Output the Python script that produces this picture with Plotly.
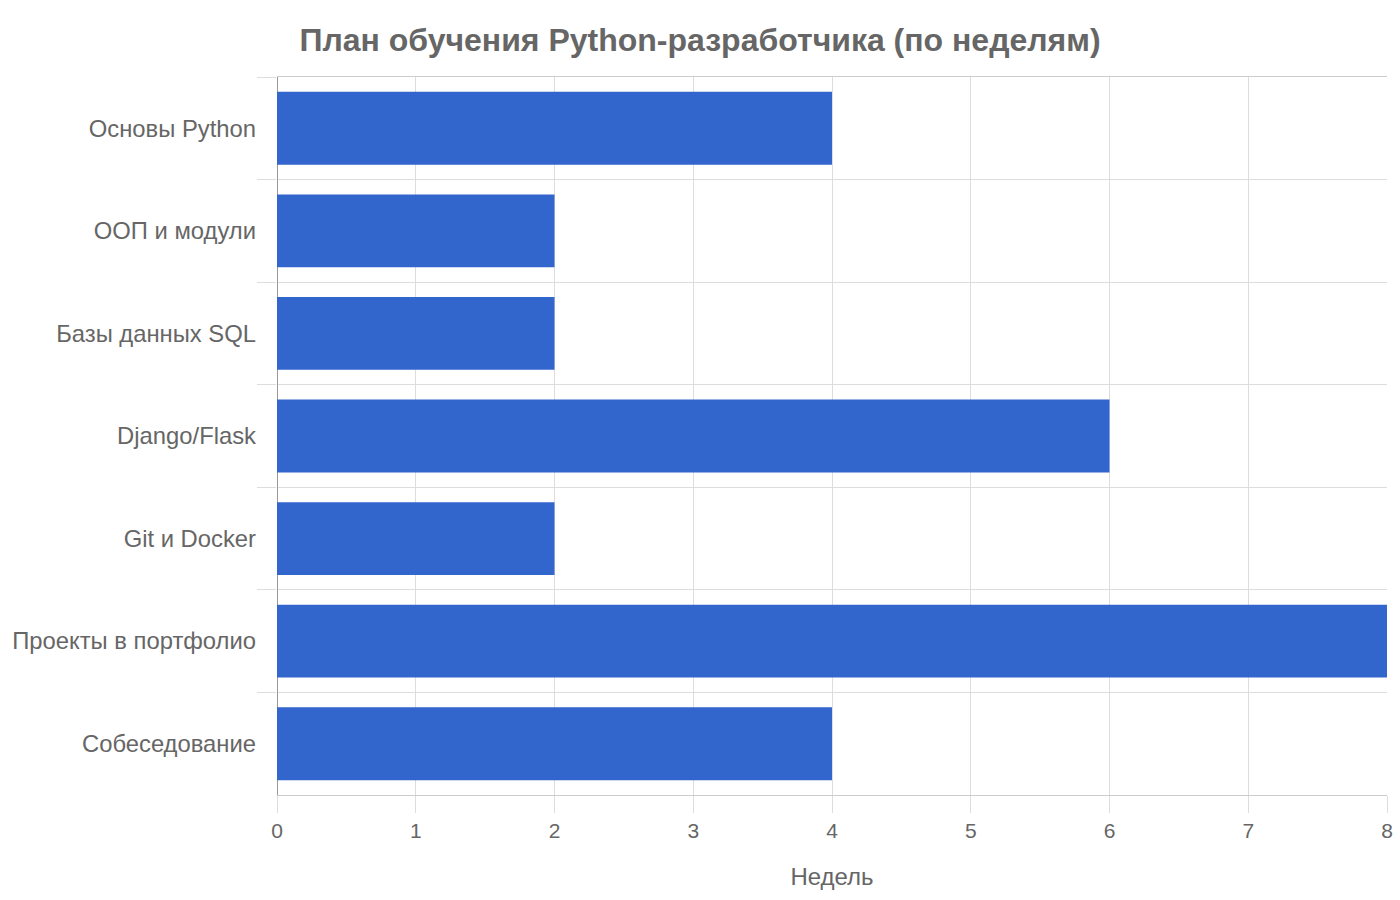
import plotly.graph_objects as go

categories = ["Основы Python", "ООП и модули", "Базы данных SQL", "Django/Flask",
              "Git и Docker", "Проекты в портфолио", "Собеседование"]
weeks = [4, 2, 2, 6, 2, 8, 4]
x_ticks = [0, 1, 2, 3, 4, 5, 6, 7, 8]

fig = go.Figure(go.Bar(
    y=categories, x=weeks, orientation="h",
    marker=dict(color="#3366CC", line=dict(width=0)),
))

fig.update_layout(
    width=1400, height=900,
    margin=dict(l=277, r=13, t=77, b=105),
    paper_bgcolor="white", plot_bgcolor="white",
    font=dict(family="Liberation Sans, Arial, sans-serif", color="#666666", size=22),
    title=dict(text="<b>План обучения Python-разработчика (по неделям)</b>",
               x=0.5, xanchor="center", y=0.956, yanchor="middle",
               font=dict(size=32, color="#666666")),
    bargap=0.29,
    showlegend=False,
)
fig.update_xaxes(
    range=[0, 8], tickvals=x_ticks, showgrid=True, gridcolor="#dddddd",
    ticks="outside", ticklen=17, tickcolor="#dddddd",
    zeroline=True, zerolinecolor="#999999", zerolinewidth=1,
    showline=True, linecolor="#cccccc", mirror=True,
    title=dict(text="Недель", font=dict(size=24), standoff=26),
    tickfont=dict(size=21), automargin=False,
)
fig.update_yaxes(
    autorange="reversed", tickson="boundaries", showgrid=True, gridcolor="#dddddd",
    ticks="outside", ticklen=19, tickcolor="#dddddd",
    ticklabelstandoff=20,
    tickfont=dict(size=23.8), automargin=False,
)
fig.write_html("out.html")
